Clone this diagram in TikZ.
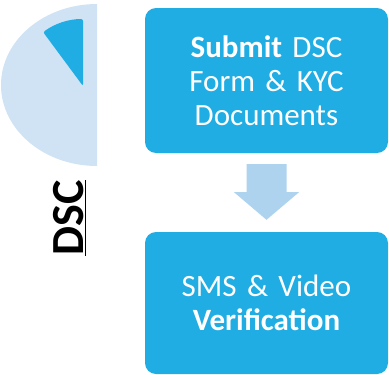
\documentclass[tikz,border=0pt]{standalone}
\usepackage{fontspec}
\usetikzlibrary{calc}
\setmainfont{Carlito}
\definecolor{boxblue}{HTML}{1FADE3}
\definecolor{paleblue}{HTML}{CFE3F4}
\definecolor{arrowblue}{HTML}{ADD3EE}
\begin{document}
\begin{tikzpicture}[x=1pt,y=-1pt,
  stepbox/.style={fill=boxblue, rounded corners=11pt, minimum width=243pt, text width=235pt, align=center, text=white, font=\fontsize{31}{34}\selectfont, inner sep=0pt}]
\useasboundingbox (0,0) rectangle (389,375);
% half disc
\fill[paleblue] (97,4) arc[start angle=-90, end angle=-270, x radius=96, y radius=81] -- cycle;
% wedge
\fill[boxblue, rounded corners=2pt] (83,86) -- (83,19) arc[start angle=-90, end angle=-126.5, radius=67] -- cycle;
% DSC label
\node[rotate=90, anchor=base, inner sep=0pt, font=\bfseries\fontsize{46}{46}\selectfont] (lbl) at (83,218) {\underline{DSC}};
% boxes
\node[stepbox, minimum height=145pt] (b1) at (266.5,80.5) {\textbf{Submit} DSC\\Form \& KYC\\Documents};
\node[stepbox, minimum height=142pt] (b2) at (266.5,303) {SMS \& Video\\\textbf{Verification}};
% arrow
\coordinate (at) at ($(b1.south)+(0,11)$);
\coordinate (tip) at ($(b2.north)+(0,-12)$);
\fill[arrowblue] ($(at)+(-20,0)$) -- ($(at)+(20,0)$) -- ($(at)+(20,28)$) -- ($(at)+(32.5,28)$) -- (tip) -- ($(at)+(-32.5,28)$) -- ($(at)+(-20,28)$) -- cycle;
\end{tikzpicture}
\end{document}
